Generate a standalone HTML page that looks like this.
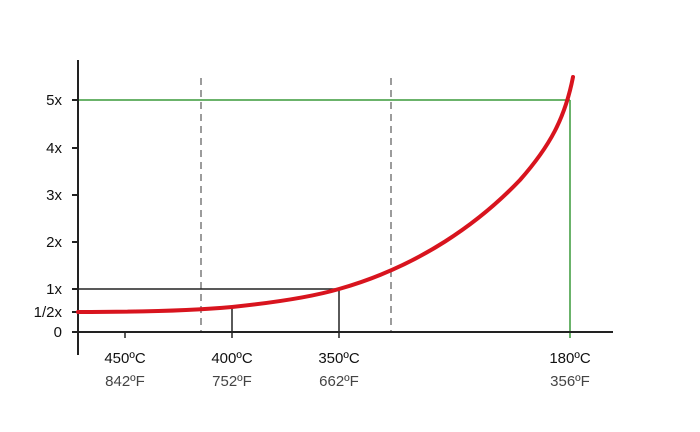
<!DOCTYPE html>
<html><head><meta charset="utf-8"><style>body{margin:0;background:#fff}svg{display:block}</style></head><body>
<svg width="700" height="432" viewBox="0 0 700 432" xmlns="http://www.w3.org/2000/svg" font-family="Liberation Sans, Arial, sans-serif">
<g stroke="#666" stroke-width="1.3" stroke-dasharray="7,5">
<line x1="201" y1="78" x2="201" y2="332"/>
<line x1="391" y1="78" x2="391" y2="332"/>
</g>
<g stroke="#3a9a3a" stroke-width="1.5">
<line x1="78" y1="100" x2="570" y2="100"/>
<line x1="570" y1="100" x2="570" y2="338"/>
</g>
<g stroke="#222" stroke-width="1.5">
<line x1="78" y1="289" x2="339" y2="289"/>
<line x1="339" y1="289" x2="339" y2="338"/>
<line x1="232" y1="307" x2="232" y2="338"/>
<line x1="125" y1="332" x2="125" y2="338"/>
</g>
<g stroke="#222" stroke-width="2">
<line x1="78" y1="60" x2="78" y2="355"/>
<line x1="72" y1="332" x2="613" y2="332"/>
<line x1="72" y1="100" x2="78" y2="100"/>
<line x1="72" y1="148" x2="78" y2="148"/>
<line x1="72" y1="195" x2="78" y2="195"/>
<line x1="72" y1="242" x2="78" y2="242"/>
<line x1="72" y1="289" x2="78" y2="289"/>
<line x1="72" y1="312" x2="78" y2="312"/>
</g>
<path d="M78,312 C150,312 200,310 232,307 C280,302 315,296 339,289 C420,266 480,222 520,180 C550,146 565,118 573,77" fill="none" stroke="#d8141e" stroke-width="4" stroke-linecap="round"/>
<g font-size="15" fill="#111" text-anchor="end">
<text x="62" y="105">5x</text>
<text x="62" y="153">4x</text>
<text x="62" y="200">3x</text>
<text x="62" y="247">2x</text>
<text x="62" y="294">1x</text>
<text x="62" y="317">1/2x</text>
<text x="62" y="337">0</text>
</g>
<g font-size="15" fill="#111" text-anchor="middle">
<text x="125" y="363">450ºC</text>
<text x="232" y="363">400ºC</text>
<text x="339" y="363">350ºC</text>
<text x="570" y="363">180ºC</text>
</g>
<g font-size="15" fill="#444" text-anchor="middle">
<text x="125" y="386">842ºF</text>
<text x="232" y="386">752ºF</text>
<text x="339" y="386">662ºF</text>
<text x="570" y="386">356ºF</text>
</g>
</svg>
</body></html>
